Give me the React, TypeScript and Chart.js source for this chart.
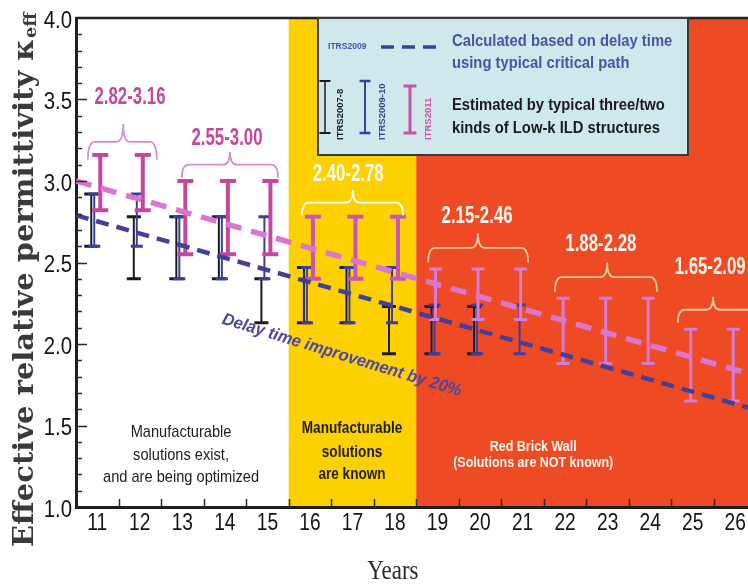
import React, { useEffect, useRef } from "react";
import { Chart, registerables } from "chart.js";

Chart.register(...registerables);

// ---------------- data ----------------
const years = [11, 12, 13, 14, 15, 16, 17, 18, 19, 20, 21, 22, 23, 24, 25, 26];

const itrs2007Low = [2.6, 2.4, 2.4, 2.4, 2.13, 2.13, 2.13, 1.94, 1.94, 1.94, null, null, null, null, null, null];
const itrs2007High = [2.92, 2.78, 2.78, 2.78, 2.4, 2.47, 2.47, 2.23, 2.23, 2.23, null, null, null, null, null, null];

const itrs2009Low = [2.6, 2.6, 2.4, 2.4, 2.4, 2.13, 2.13, 2.13, 1.94, 1.94, 1.94, null, null, null, null, null];
const itrs2009High = [2.92, 2.92, 2.78, 2.78, 2.78, 2.47, 2.47, 2.47, 2.24, 2.24, 2.24, null, null, null, null, null];

const itrs2011Low = [2.82, 2.82, 2.55, 2.55, 2.55, 2.4, 2.4, 2.4, 2.15, 2.15, 2.15, 1.88, 1.88, 1.88, 1.65, 1.65];
const itrs2011High = [3.16, 3.16, 3.0, 3.0, 3.0, 2.78, 2.78, 2.78, 2.46, 2.46, 2.46, 2.28, 2.28, 2.28, 2.09, 2.09];

// dashed trend lines (end points)
const delayTrendX = [10.5, 26.3];
const delayTrendY = [2.79, 1.61];
const itrs2011TrendX = [10.5, 26.3];
const itrs2011TrendY = [3.0, 1.82];

const zoneEdges = [10.5, 15.5, 18.5, 26.3];

const rangeLabels = ["2.82-3.16", "2.55-3.00", "2.40-2.78", "2.15-2.46", "1.88-2.28", "1.65-2.09"];
const zoneTexts = [
  ["Manufacturable", "solutions exist,", "and are being optimized"],
  ["Manufacturable", "solutions", "are known"],
  ["Red Brick Wall", "(Solutions are NOT known)"],
];
const delayText = "Delay time improvement by 20%";
const legendTexts = {
  dash: "ITRS2009",
  calc: ["Calculated based on delay time", "using typical critical path"],
  est: ["Estimated by typical three/two", "kinds of Low-k ILD structures"],
  bars: ["ITRS2007-8", "ITRS2009-10", "ITRS2011"],
};
const xTitle = "Years";
const yTitleMain = "Effective relative permittivity \u03ba";
const yTitleSub = "eff";

// ---------------- layout / style (annotation placement in axis units) ----------------
const braceGeom = [
  { x0: 10.78, x1: 12.4, xm: 11.61, peak: 3.35, end: 3.13, lx: 11.77, ly: 3.51 },
  { x0: 12.99, x1: 15.25, xm: 14.12, peak: 3.18, end: 3.02, lx: 14.05, ly: 3.26 },
  { x0: 15.81, x1: 18.19, xm: 17.01, peak: 2.945, end: 2.79, lx: 16.9, ly: 3.04 },
  { x0: 18.78, x1: 21.13, xm: 19.95, peak: 2.68, end: 2.5, lx: 19.93, ly: 2.78 },
  { x0: 21.76, x1: 24.16, xm: 22.99, peak: 2.5, end: 2.32, lx: 22.84, ly: 2.61 },
  { x0: 24.65, x1: 26.6, xm: 25.48, peak: 2.29, end: 2.13, lx: 25.41, ly: 2.47 },
];
const braceStyle = [
  { line: "#d98ccf", text: "#c4489e" },
  { line: "#d98ccf", text: "#c4489e" },
  { line: "#fffdf2", text: "#fffbea" },
  { line: "#f8cba6", text: "#fff6ee" },
  { line: "#f8cba6", text: "#fff6ee" },
  { line: "#f8cba6", text: "#fff6ee" },
];
const zoneTextPos = [
  { x: 12.97, ys: [1.46, 1.32, 1.184], font: "17px 'Liberation Sans'", sx: 0.86, color: "#222" },
  { x: 16.99, ys: [1.485, 1.337, 1.2], font: "bold 17px 'Liberation Sans'", sx: 0.8, color: "#1e1e1e" },
  { x: 21.25, ys: [1.368, 1.27], font: "bold 14.5px 'Liberation Sans'", sx: 0.86, color: "#fff4ee" },
];
const zoneColors = ["#ffffff", "#fdd000", "#ee4b24"];

const blackStyle = { color: "#1c1c1c", stem: 2, cap: 14, capW: 3, offset: -6 };
const blueStyle = { color: "#3b3f9e", stem: 2, cap: 12, capW: 3, offset: -3 };
const magentaStyles = [
  { color: "#c4479e", stem: 4, cap: 16, capW: 4, offset: 3 },
  { color: "#c955b8", stem: 4, cap: 16, capW: 4, offset: 3 },
  { color: "#d77cd6", stem: 3, cap: 13, capW: 3, offset: -2 },
];

function zoneIndex(x: number) {
  if (x < zoneEdges[1]) return 0;
  if (x < zoneEdges[2]) return 1;
  return 2;
}

function txt(
  ctx: CanvasRenderingContext2D,
  s: string,
  x: number,
  y: number,
  font: string,
  color: string,
  align: CanvasTextAlign = "center",
  sx = 1,
  baseline: CanvasTextBaseline = "middle"
) {
  ctx.save();
  ctx.font = font;
  ctx.fillStyle = color;
  ctx.textAlign = align;
  ctx.textBaseline = baseline;
  ctx.translate(x, y);
  ctx.scale(sx, 1);
  ctx.fillText(s, 0, 0);
  ctx.restore();
}

function ibar(ctx: CanvasRenderingContext2D, x: number, yTop: number, yBot: number, st: any) {
  ctx.save();
  ctx.strokeStyle = st.color;
  ctx.lineCap = "butt";
  ctx.lineWidth = st.stem;
  ctx.beginPath();
  ctx.moveTo(x, yTop);
  ctx.lineTo(x, yBot);
  ctx.stroke();
  ctx.lineWidth = st.capW;
  ctx.beginPath();
  ctx.moveTo(x - st.cap / 2, yTop);
  ctx.lineTo(x + st.cap / 2, yTop);
  ctx.moveTo(x - st.cap / 2, yBot);
  ctx.lineTo(x + st.cap / 2, yBot);
  ctx.stroke();
  ctx.restore();
}

function brace(ctx: CanvasRenderingContext2D, x0: number, x1: number, xm: number, yPeak: number, yEnd: number, color: string) {
  const yMid = yEnd - (yEnd - yPeak) * 0.5;
  const r = 7;
  ctx.save();
  ctx.strokeStyle = color;
  ctx.lineWidth = 1.8;
  ctx.beginPath();
  ctx.moveTo(x0, yEnd);
  ctx.quadraticCurveTo(x0, yMid, x0 + r, yMid);
  ctx.lineTo(xm - r, yMid);
  ctx.quadraticCurveTo(xm, yMid, xm, yPeak);
  ctx.quadraticCurveTo(xm, yMid, xm + r, yMid);
  ctx.lineTo(x1 - r, yMid);
  ctx.quadraticCurveTo(x1, yMid, x1, yEnd);
  ctx.stroke();
  ctx.restore();
}

const backgroundPlugin = {
  id: "zones",
  beforeDraw(chart: any) {
    const { ctx, chartArea, scales } = chart;
    const xs = scales.x;
    ctx.save();
    for (let i = 0; i < 3; i++) {
      const a = xs.getPixelForValue(zoneEdges[i]);
      const b = i === 2 ? chartArea.right : xs.getPixelForValue(zoneEdges[i + 1]);
      ctx.fillStyle = zoneColors[i];
      ctx.fillRect(a, chartArea.top, b - a, chartArea.bottom - chartArea.top);
    }
    ctx.restore();
  },
};

const errorBarPlugin = {
  id: "errorbars",
  beforeDatasetsDraw(chart: any) {
    const { ctx, scales } = chart;
    const xs = scales.x;
    const ys = scales.y;
    chart.data.datasets.forEach((ds: any) => {
      if (!ds.errorBar) return;
      ds.data.forEach((d: any) => {
        const st = ds.errorBar === "magenta" ? magentaStyles[zoneIndex(d.x)] : ds.errorBar === "blue" ? blueStyle : blackStyle;
        const px = xs.getPixelForValue(d.x) + st.offset;
        ibar(ctx, px, ys.getPixelForValue(d.hi), ys.getPixelForValue(d.lo), st);
      });
    });
  },
};

const decorPlugin = {
  id: "decor",
  afterDatasetsDraw(chart: any) {
    const { ctx, chartArea, scales } = chart;
    const xs = scales.x;
    const ys = scales.y;
    const X = (v: number) => xs.getPixelForValue(v);
    const Y = (v: number) => ys.getPixelForValue(v);

    // inner tick marks
    ctx.save();
    ctx.strokeStyle = "#2a2a2a";
    ctx.lineWidth = 1.5;
    ctx.beginPath();
    ys.ticks.forEach((t: any, i: number) => {
      if (t.value <= ys.min + 1e-6 || t.value >= ys.max - 1e-6) return;
      const py = Math.round(ys.getPixelForTick(i)) + 0.5;
      const major = Math.abs(t.value * 2 - Math.round(t.value * 2)) < 1e-6;
      ctx.moveTo(chartArea.left, py);
      ctx.lineTo(chartArea.left + (major ? 11 : 6), py);
    });
    xs.ticks.forEach((t: any) => {
      const v = t.value + 0.5;
      if (v >= xs.max) return;
      const px = Math.round(X(v)) + 0.5;
      ctx.moveTo(px, chartArea.bottom);
      ctx.lineTo(px, chartArea.bottom - 8);
    });
    ctx.stroke();
    // top border
    ctx.lineWidth = 2.5;
    ctx.strokeStyle = "#222";
    ctx.beginPath();
    ctx.moveTo(chartArea.left, chartArea.top);
    ctx.lineTo(chartArea.right, chartArea.top);
    ctx.stroke();
    ctx.restore();

    // tick labels
    xs.ticks.forEach((t: any, i: number) => {
      txt(ctx, String(t.value), xs.getPixelForTick(i), chartArea.bottom + 16, "24px 'Liberation Sans'", "#141414", "center", 0.8);
    });
    ys.ticks.forEach((t: any, i: number) => {
      const major = Math.abs(t.value * 2 - Math.round(t.value * 2)) < 1e-6;
      if (!major) return;
      txt(ctx, t.value.toFixed(1), chartArea.left - 4, ys.getPixelForTick(i) + 3, "24px 'Liberation Sans'", "#141414", "right", 0.85);
    });

    // axis titles
    txt(ctx, xTitle, X(17.95), chartArea.bottom + 65, "27px 'Liberation Serif'", "#2a2a2a", "center", 0.85);
    ctx.save();
    ctx.translate(33, 547);
    ctx.rotate(-Math.PI / 2);
    ctx.font = "bold 28px 'DejaVu Serif'";
    const w = ctx.measureText(yTitleMain).width;
    const sx = 508 / w;
    ctx.scale(sx, 1);
    ctx.fillStyle = "#3a3a3a";
    ctx.textAlign = "left";
    ctx.textBaseline = "alphabetic";
    ctx.fillText(yTitleMain, 0, 0);
    ctx.font = "bold 17px 'DejaVu Serif'";
    ctx.fillText(yTitleSub, w + 1, 3);
    ctx.restore();

    // braces + range labels
    braceGeom.forEach((g, i) => {
      brace(ctx, X(g.x0), X(g.x1), X(g.xm), Y(g.peak), Y(g.end), braceStyle[i].line);
      txt(ctx, rangeLabels[i], X(g.lx), Y(g.ly), "bold 24px 'Liberation Sans'", braceStyle[i].text, "center", 0.7);
    });

    // zone texts
    zoneTextPos.forEach((z, i) => {
      zoneTexts[i].forEach((s, j) => {
        txt(ctx, s, X(z.x), Y(z.ys[j]), z.font, z.color, "center", z.sx);
      });
    });

    // delay improvement text
    ctx.save();
    ctx.translate(X(16.75), Y(1.93));
    ctx.rotate((17 * Math.PI) / 180);
    ctx.font = "italic bold 17px 'Liberation Sans'";
    ctx.fillStyle = "#4a47a6";
    ctx.textAlign = "center";
    ctx.textBaseline = "middle";
    ctx.scale(0.96, 1);
    ctx.fillText(delayText, 0, 0);
    ctx.restore();

    // legend box
    const lx = 318, ly = chartArea.top, lw = 370, lh = 137;
    ctx.save();
    ctx.fillStyle = "#cfe8ec";
    ctx.fillRect(lx, ly, lw, lh);
    ctx.strokeStyle = "#3a3a3a";
    ctx.lineWidth = 2;
    ctx.strokeRect(lx, ly, lw, lh);
    ctx.strokeStyle = "#3c3f9e";
    ctx.lineWidth = 3.5;
    ctx.setLineDash([13, 8]);
    ctx.beginPath();
    ctx.moveTo(lx + 63, ly + 29);
    ctx.lineTo(lx + 118, ly + 29);
    ctx.stroke();
    ctx.restore();
    txt(ctx, legendTexts.dash, lx + 10, ly + 29, "bold 9px 'Liberation Sans'", "#4a52a8", "left", 0.95);
    txt(ctx, legendTexts.calc[0], lx + 134, ly + 23, "bold 17px 'Liberation Sans'", "#4b52a8", "left", 0.87);
    txt(ctx, legendTexts.calc[1], lx + 134, ly + 45, "bold 17px 'Liberation Sans'", "#4b52a8", "left", 0.87);
    txt(ctx, legendTexts.est[0], lx + 134, ly + 87, "bold 17px 'Liberation Sans'", "#1a1a1a", "left", 0.87);
    txt(ctx, legendTexts.est[1], lx + 134, ly + 110, "bold 17px 'Liberation Sans'", "#1a1a1a", "left", 0.87);
    ibar(ctx, lx + 7, ly + 63, ly + 115, { color: "#1c1c1c", stem: 1.5, cap: 11, capW: 2 });
    ibar(ctx, lx + 47, ly + 63, ly + 115, { color: "#3b3f9e", stem: 2, cap: 11, capW: 2.5 });
    ibar(ctx, lx + 92, ly + 68, ly + 115, { color: "#cc4fa8", stem: 3, cap: 13, capW: 3 });
    const rot = (s: string, x: number, color: string) => {
      ctx.save();
      ctx.translate(x, ly + 122);
      ctx.rotate(-Math.PI / 2);
      ctx.font = "bold 9.5px 'Liberation Sans'";
      ctx.fillStyle = color;
      ctx.textAlign = "left";
      ctx.textBaseline = "middle";
      ctx.fillText(s, 0, 0);
      ctx.restore();
    };
    rot(legendTexts.bars[0], lx + 22, "#1a1a1a");
    rot(legendTexts.bars[1], lx + 64, "#3b3f9e");
    rot(legendTexts.bars[2], lx + 110, "#cc4fa8");
  },
};

function errorData(lo: (number | null)[], hi: (number | null)[]) {
  const out: any[] = [];
  years.forEach((yr, i) => {
    const l = lo[i];
    const h = hi[i];
    if (l == null || h == null) return;
    out.push({ x: yr, y: h, lo: l, hi: h });
  });
  return out;
}

export default function App() {
  const ref = useRef<HTMLCanvasElement | null>(null);
  useEffect(() => {
    document.body.style.margin = "0";
    const canvas = ref.current;
    if (!canvas) return;
    const chart = new Chart(canvas, {
      type: "line",
      data: {
        datasets: [
          {
            label: "ITRS2007-8",
            data: errorData(itrs2007Low, itrs2007High),
            showLine: false,
            pointRadius: 0,
            errorBar: "black",
          } as any,
          {
            label: "ITRS2009-10",
            data: errorData(itrs2009Low, itrs2009High),
            showLine: false,
            pointRadius: 0,
            errorBar: "blue",
          } as any,
          {
            label: "ITRS2011",
            data: errorData(itrs2011Low, itrs2011High),
            showLine: false,
            pointRadius: 0,
            errorBar: "magenta",
          } as any,
          {
            label: "ITRS2011 trend",
            data: itrs2011TrendX.map((x, i) => ({ x, y: itrs2011TrendY[i] })),
            borderColor: "#d977cf",
            borderWidth: 5.5,
            borderDash: [16, 10],
            pointRadius: 0,
            fill: false,
          },
          {
            label: "ITRS2009 delay",
            data: delayTrendX.map((x, i) => ({ x, y: delayTrendY[i] })),
            borderColor: "#453f9c",
            borderWidth: 4.5,
            borderDash: [13, 8],
            pointRadius: 0,
            fill: false,
          },
        ],
      },
      options: {
        animation: false,
        responsive: false,
        maintainAspectRatio: false,
        layout: { padding: { top: 18, right: 0, left: 0, bottom: 0 } },
        plugins: { legend: { display: false }, tooltip: { enabled: false } },
        scales: {
          x: {
            type: "linear",
            min: 10.5,
            max: 26.3,
            ticks: { stepSize: 1, includeBounds: false, display: false, autoSkip: false },
            grid: { display: false },
            border: { display: true, color: "#1e1e1e", width: 3 },
            afterFit: (s: any) => {
              s.height = 79;
            },
          },
          y: {
            type: "linear",
            min: 1,
            max: 4,
            ticks: { stepSize: 0.1, display: false, autoSkip: false },
            grid: { display: false },
            border: { display: true, color: "#1e1e1e", width: 3 },
            afterFit: (s: any) => {
              s.width = 76;
            },
          },
        },
      } as any,
      plugins: [backgroundPlugin, errorBarPlugin, decorPlugin],
    });
    return () => chart.destroy();
  }, []);
  return <canvas ref={ref} width={748} height={586} style={{ display: "block" }} />;
}
